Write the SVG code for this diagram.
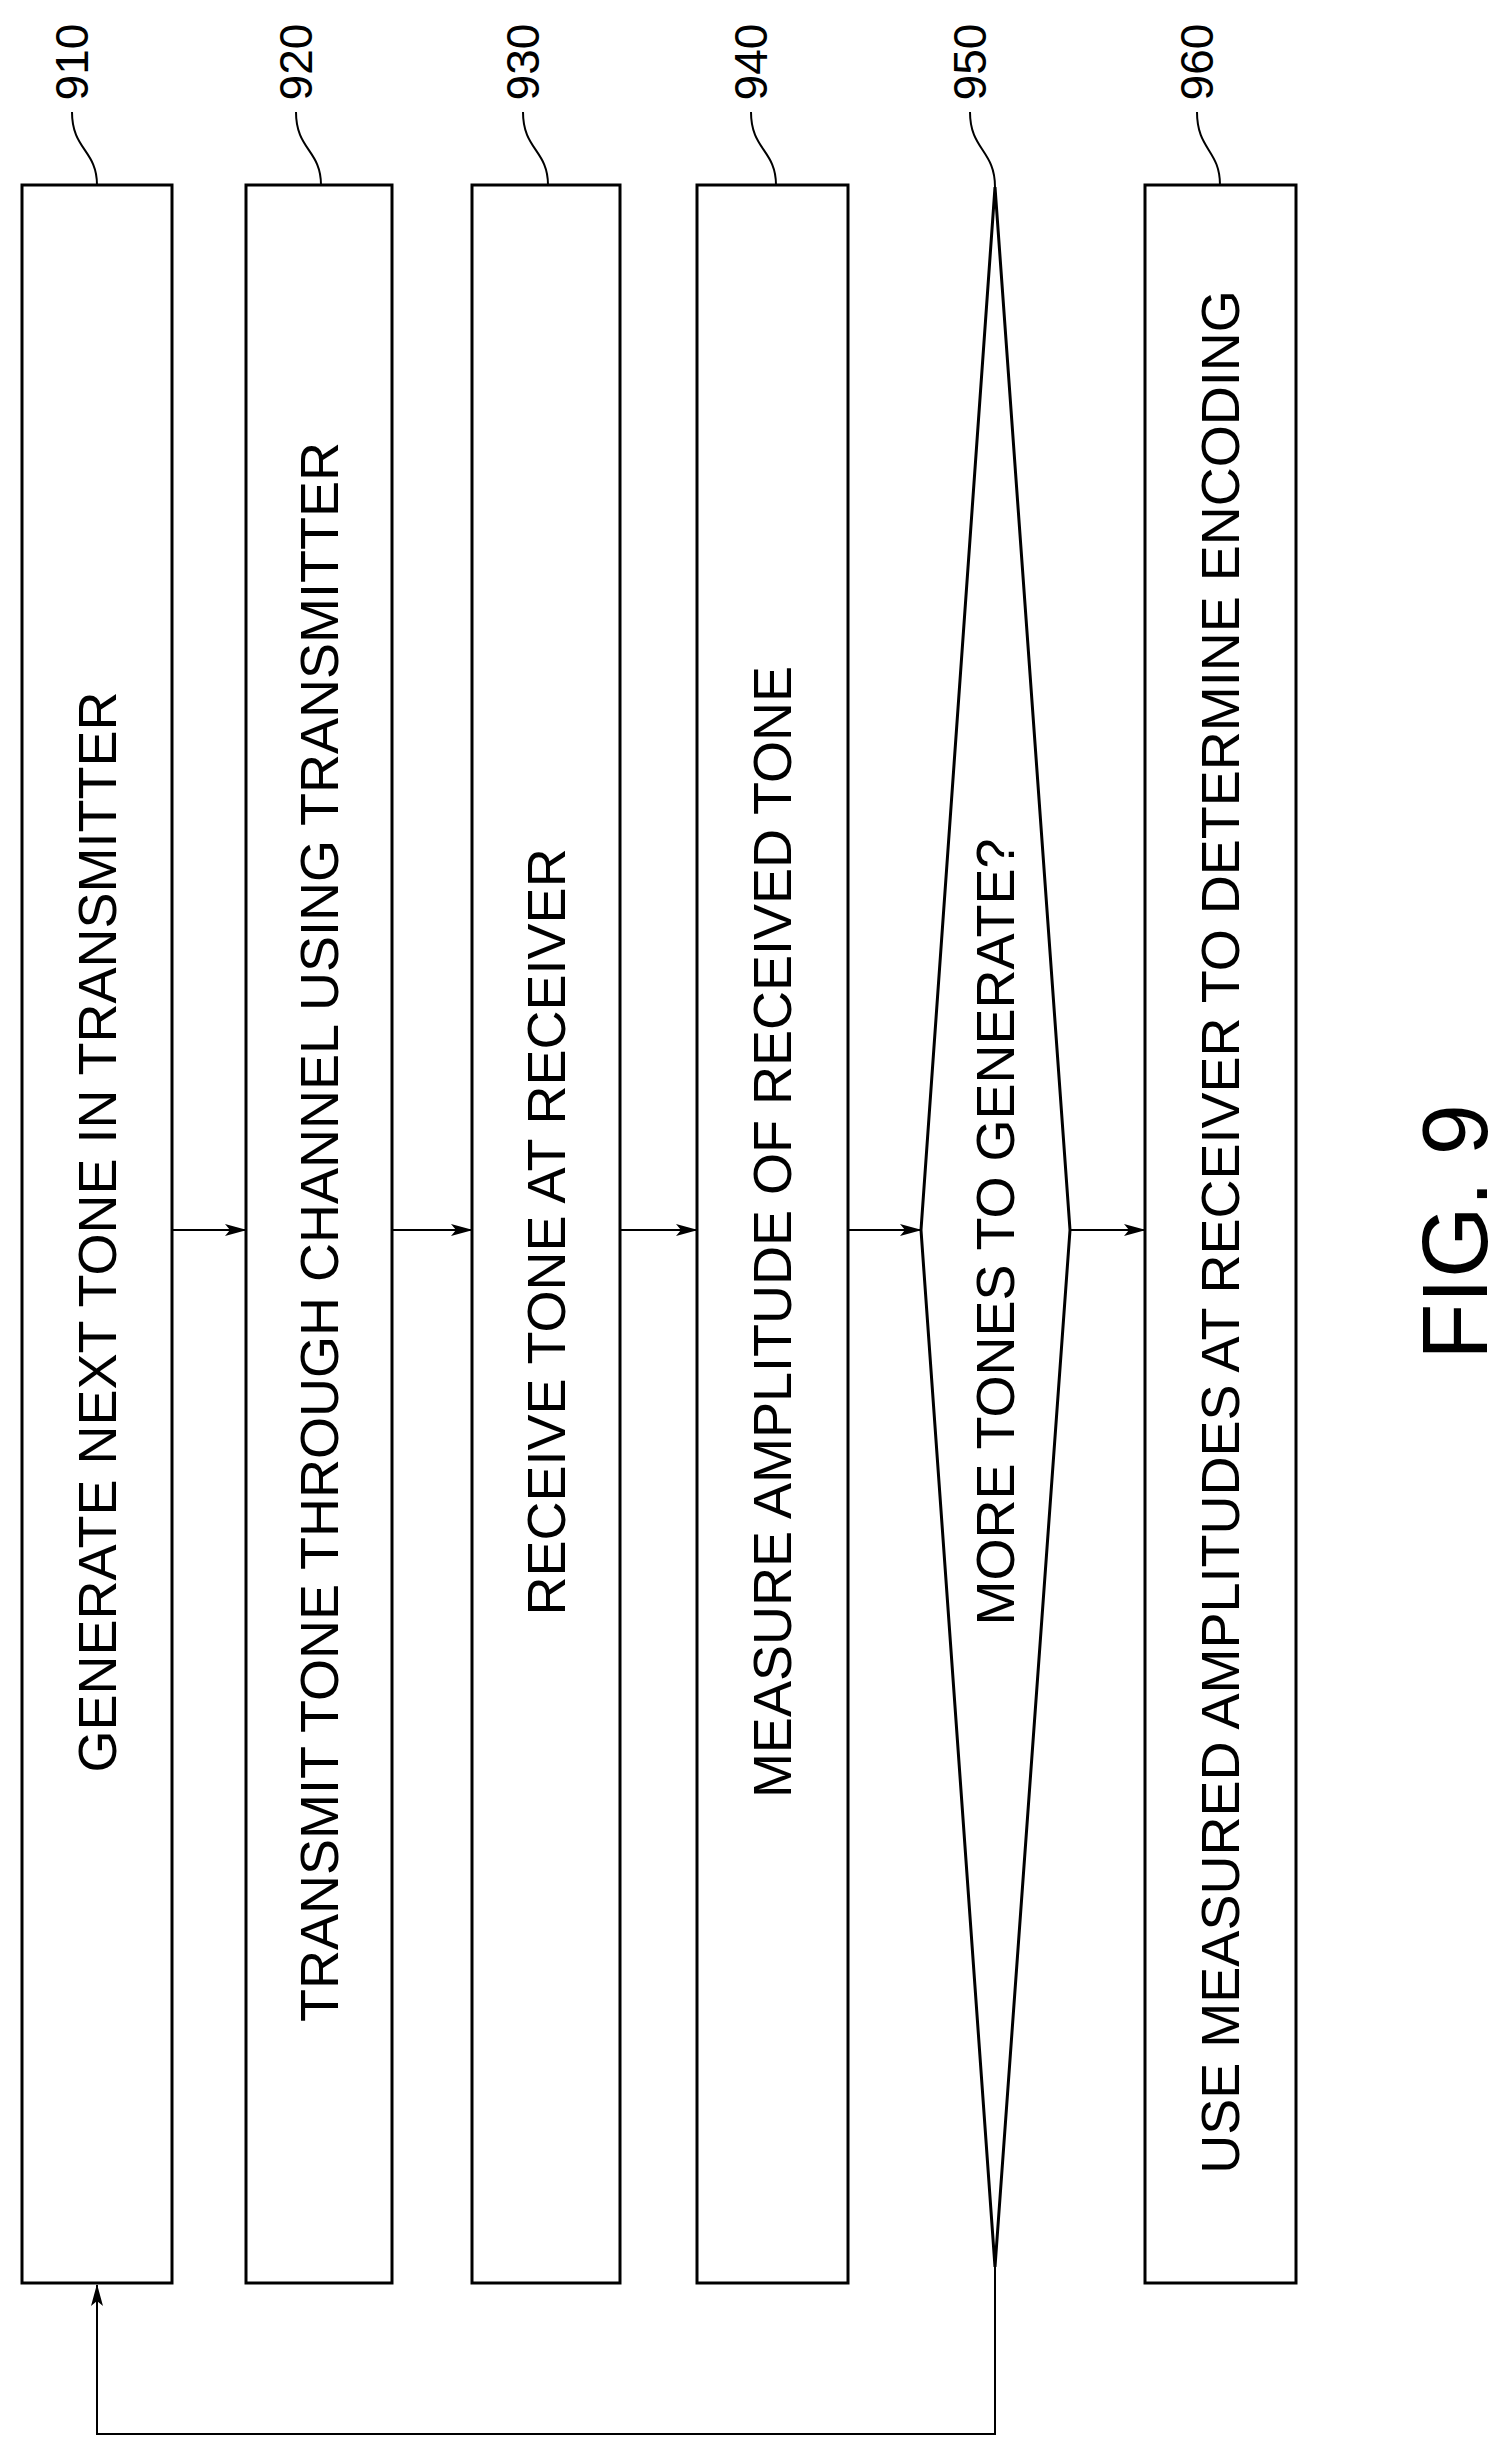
<svg xmlns="http://www.w3.org/2000/svg" width="1505" height="2457" viewBox="0 0 1505 2457">
<style>
.b{fill:#fff;stroke:#000;stroke-width:3}
.t{font-family:"Liberation Sans",Arial,sans-serif;font-size:54px;text-anchor:middle;dominant-baseline:central}
.n{font-family:"Liberation Sans",Arial,sans-serif;font-size:46px;text-anchor:middle;dominant-baseline:central}
.l{fill:none;stroke:#000;stroke-width:2}
</style>
<defs><marker id="a" markerWidth="22" markerHeight="12" refX="21" refY="6" orient="auto" markerUnits="userSpaceOnUse"><path d="M0,0 L22,6 L0,12 L5,6 Z"/></marker></defs>
<rect width="1505" height="2457" fill="#fff"/>
<g id="n910"><rect class="b" x="22" y="185" width="150" height="2098"/><text class="t" transform="translate(97,1232) rotate(-90)">GENERATE NEXT TONE IN TRANSMITTER</text><text class="n" transform="translate(72,62) rotate(-90)">910</text><path class="l" d="M72,112 C72,150 97,150 97,185"/></g>
<g id="n920"><rect class="b" x="246" y="185" width="146" height="2098"/><text class="t" transform="translate(319,1232) rotate(-90)">TRANSMIT TONE THROUGH CHANNEL USING TRANSMITTER</text><text class="n" transform="translate(296,62) rotate(-90)">920</text><path class="l" d="M296,112 C296,150 321,150 321,185"/></g>
<g id="n930"><rect class="b" x="472" y="185" width="148" height="2098"/><text class="t" transform="translate(546,1232) rotate(-90)">RECEIVE TONE AT RECEIVER</text><text class="n" transform="translate(523,62) rotate(-90)">930</text><path class="l" d="M523,112 C523,150 548,150 548,185"/></g>
<g id="n940"><rect class="b" x="697" y="185" width="151" height="2098"/><text class="t" transform="translate(772,1232) rotate(-90)">MEASURE AMPLITUDE OF RECEIVED TONE</text><text class="n" transform="translate(751,62) rotate(-90)">940</text><path class="l" d="M751,112 C751,150 776,150 776,185"/></g>
<g id="n950"><path class="b" d="M995,187 L1070,1230 L995,2267 L921,1230 Z"/><text class="t" transform="translate(995,1232) rotate(-90)">MORE TONES TO GENERATE?</text><text class="n" transform="translate(970,62) rotate(-90)">950</text><path class="l" d="M970,112 C970,150 995,150 995,187"/></g>
<g id="n960"><rect class="b" x="1145" y="185" width="151" height="2098"/><text class="t" transform="translate(1220,1232) rotate(-90)">USE MEASURED AMPLITUDES AT RECEIVER TO DETERMINE ENCODING</text><text class="n" transform="translate(1197,62) rotate(-90)">960</text><path class="l" d="M1197,112 C1197,150 1220,150 1220,185"/></g>
<g id="connectors" class="l">
<path d="M172,1230 H246" marker-end="url(#a)"/>
<path d="M392,1230 H472" marker-end="url(#a)"/>
<path d="M620,1230 H697" marker-end="url(#a)"/>
<path d="M848,1230 H921" marker-end="url(#a)"/>
<path d="M1070,1230 H1145" marker-end="url(#a)"/>
<path d="M995,2267 V2434 H97 V2285" marker-end="url(#a)"/>
</g>
<text font-family="Liberation Sans,Arial,sans-serif" font-size="92" text-anchor="middle" dominant-baseline="central" transform="translate(1455,1232) rotate(-90)">FIG. 9</text>
</svg>
